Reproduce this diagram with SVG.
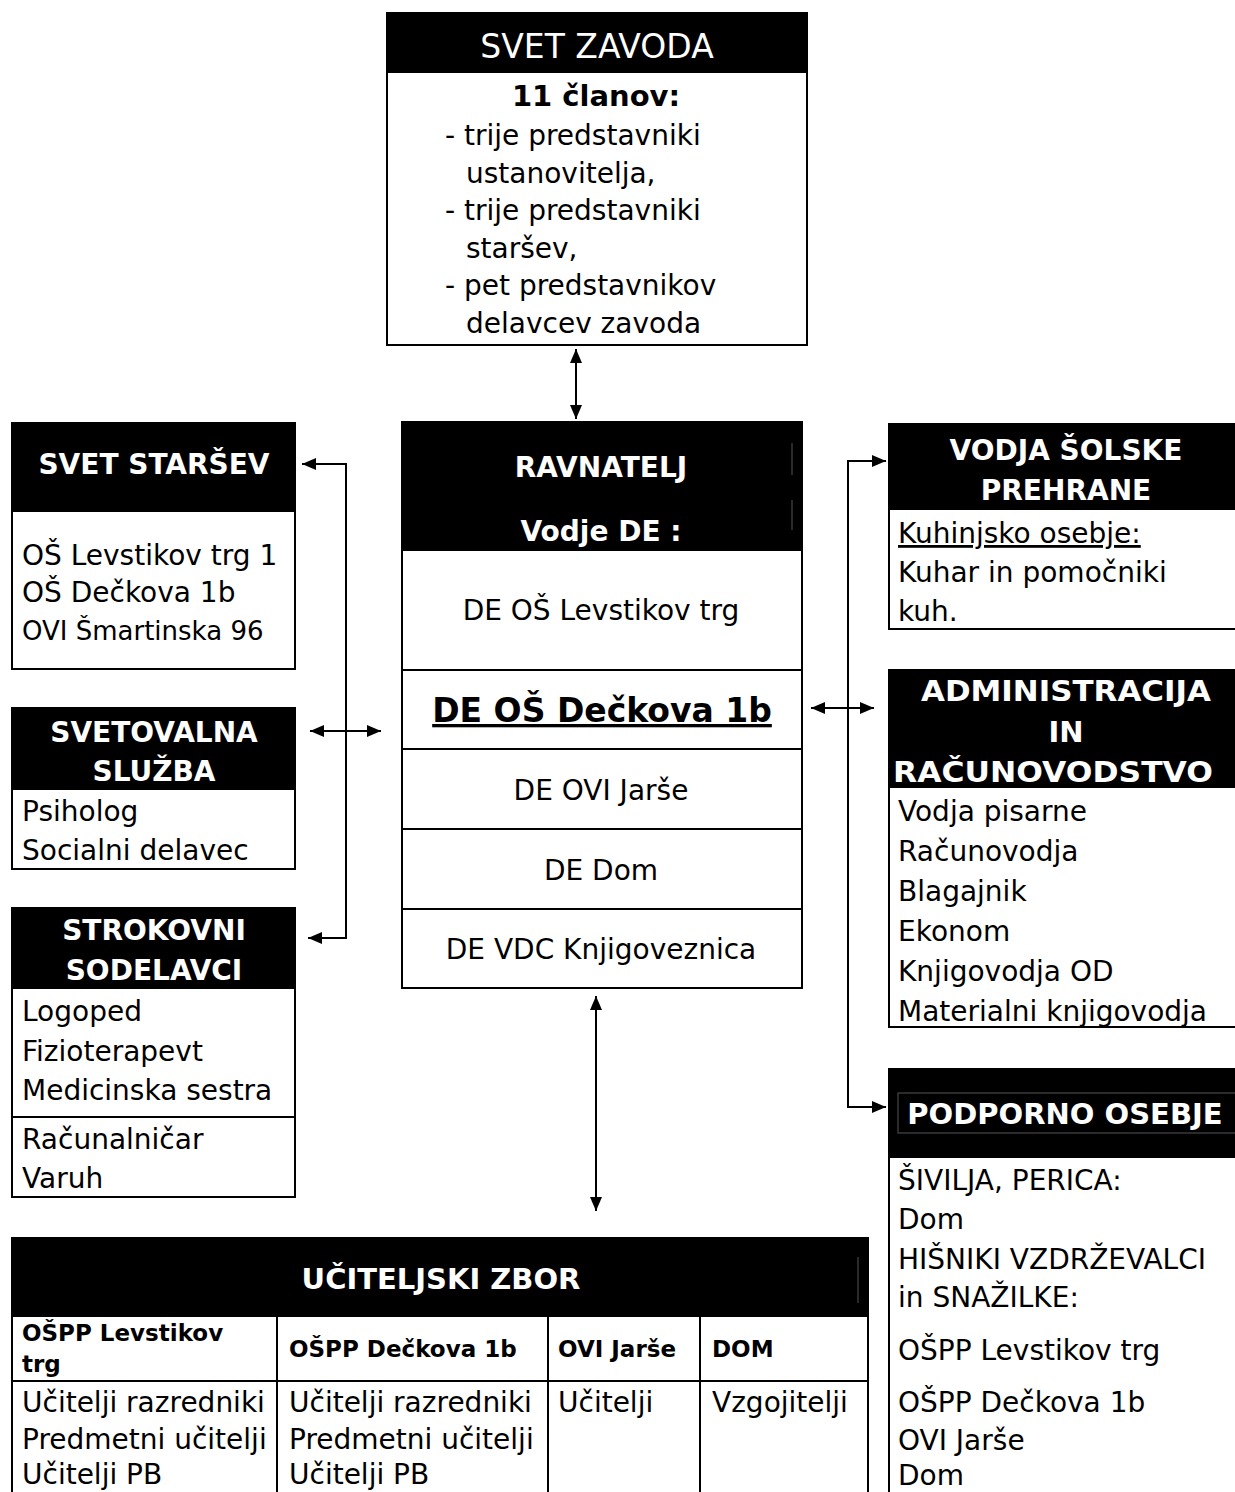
<svg xmlns="http://www.w3.org/2000/svg" width="1235" height="1492" viewBox="0 0 1235 1492">
<style>
text{font-family:"DejaVu Sans",Verdana,sans-serif;font-size:28px;fill:#000}
.w{fill:#fff;font-weight:bold}
.c{text-anchor:middle}
.b{font-weight:bold}
.blk{fill:#000}
.frm{fill:none;stroke:#000;stroke-width:2}
.ln{stroke:#000;stroke-width:2;fill:none}
.gr{stroke:#555;stroke-width:1;fill:none}
.con{stroke:#000;stroke-width:2;fill:none;marker-start:url(#ah);marker-end:url(#ah)}
</style>
<defs>
<marker id="ah" markerUnits="userSpaceOnUse" markerWidth="16" markerHeight="14" refX="14" refY="6" orient="auto-start-reverse">
<path d="M0,0 L14,6 L0,12 z" fill="#000"/>
</marker>
</defs>
<rect width="1235" height="1492" fill="#fff"/>

<g id="svet-zavoda">
<rect class="blk" x="387" y="13" width="420" height="60"/>
<rect class="frm" x="387" y="13" width="420" height="332"/>
<text class="c" x="597" y="58" style="fill:#fff;font-size:33px">SVET ZAVODA</text>
<text class="c b" x="596" y="106" style="font-size:29px">11 članov:</text>
<text x="445" y="145">- trije predstavniki</text>
<text x="466" y="183">ustanovitelja,</text>
<text x="445" y="220">- trije predstavniki</text>
<text x="466" y="258">staršev,</text>
<text x="445" y="295">- pet predstavnikov</text>
<text x="466" y="333">delavcev zavoda</text>
</g>

<g id="ravnatelj">
<rect class="blk" x="402" y="422" width="400" height="129"/>
<rect class="frm" x="402" y="422" width="400" height="566"/>
<line class="gr" x1="792" y1="443" x2="792" y2="475"/>
<line class="gr" x1="792" y1="500" x2="792" y2="530"/>
<text class="c w" x="601" y="477">RAVNATELJ</text>
<text class="c w" x="601" y="541">Vodje DE :</text>
<line class="ln" x1="402" y1="670" x2="802" y2="670"/>
<line class="ln" x1="402" y1="749" x2="802" y2="749"/>
<line class="ln" x1="402" y1="829" x2="802" y2="829"/>
<line class="ln" x1="402" y1="909" x2="802" y2="909"/>
<text class="c" x="601" y="620">DE OŠ Levstikov trg</text>
<text class="c b" x="602" y="722" style="font-size:33px" text-decoration="underline">DE OŠ Dečkova 1b</text>
<text class="c" x="601" y="800">DE OVI Jarše</text>
<text class="c" x="601" y="880">DE Dom</text>
<text class="c" x="601" y="959">DE VDC Knjigoveznica</text>
</g>

<g id="svet-starsev">
<rect class="blk" x="12" y="423" width="283" height="89"/>
<rect class="frm" x="12" y="423" width="283" height="246"/>
<text class="c w" x="154" y="474">SVET STARŠEV</text>
<text x="22" y="565">OŠ Levstikov trg 1</text>
<text x="22" y="602">OŠ Dečkova 1b</text>
<text x="22" y="640" style="font-size:26px">OVI Šmartinska 96</text>
</g>

<g id="svetovalna-sluzba">
<rect class="blk" x="12" y="708" width="283" height="82"/>
<rect class="frm" x="12" y="708" width="283" height="161"/>
<text class="c w" x="154" y="742">SVETOVALNA</text>
<text class="c w" x="154" y="781">SLUŽBA</text>
<text x="22" y="821">Psiholog</text>
<text x="22" y="860">Socialni delavec</text>
</g>

<g id="strokovni-sodelavci">
<rect class="blk" x="12" y="908" width="283" height="81"/>
<rect class="frm" x="12" y="908" width="283" height="289"/>
<text class="c w" x="154" y="940">STROKOVNI</text>
<text class="c w" x="154" y="980">SODELAVCI</text>
<text x="22" y="1021">Logoped</text>
<text x="22" y="1061">Fizioterapevt</text>
<text x="22" y="1100">Medicinska sestra</text>
<line class="ln" x1="12" y1="1117" x2="295" y2="1117"/>
<text x="22" y="1149">Računalničar</text>
<text x="22" y="1188">Varuh</text>
</g>

<g id="vodja-prehrane">
<rect class="blk" x="889" y="423" width="346" height="87"/>
<path class="ln" d="M889,423 V629 H1235"/>
<text class="c w" x="1066" y="460">VODJA ŠOLSKE</text>
<text class="c w" x="1066" y="500">PREHRANE</text>
<text x="898" y="543" text-decoration="underline">Kuhinjsko osebje:</text>
<text x="898" y="582">Kuhar in pomočniki</text>
<text x="898" y="621">kuh.</text>
</g>

<g id="administracija">
<rect class="blk" x="889" y="669" width="346" height="119"/>
<path class="ln" d="M889,669 V1027 H1235"/>
<text class="c w" x="1066" y="701" style="font-size:29px" textLength="290" lengthAdjust="spacingAndGlyphs">ADMINISTRACIJA</text>
<text class="c w" x="1066" y="742" style="font-size:29px">IN</text>
<text class="c w" x="1053" y="782" style="font-size:29px" textLength="320" lengthAdjust="spacingAndGlyphs">RAČUNOVODSTVO</text>
<text x="898" y="821">Vodja pisarne</text>
<text x="898" y="861">Računovodja</text>
<text x="898" y="901">Blagajnik</text>
<text x="898" y="941">Ekonom</text>
<text x="898" y="981">Knjigovodja OD</text>
<text x="898" y="1021">Materialni knjigovodja</text>
</g>

<g id="podporno-osebje">
<rect class="blk" x="889" y="1068" width="346" height="90"/>
<line class="ln" x1="889" y1="1068" x2="889" y2="1492"/>
<rect class="gr" x="898" y="1093" width="340" height="40"/>
<text class="c w" x="1065" y="1124" style="font-size:29px">PODPORNO OSEBJE</text>
<text x="898" y="1190">ŠIVILJA, PERICA:</text>
<text x="898" y="1229">Dom</text>
<text x="898" y="1269">HIŠNIKI VZDRŽEVALCI</text>
<text x="898" y="1307">in SNAŽILKE:</text>
<text x="898" y="1360">OŠPP Levstikov trg</text>
<text x="898" y="1412">OŠPP Dečkova 1b</text>
<text x="898" y="1450">OVI Jarše</text>
<text x="898" y="1485">Dom</text>
</g>

<g id="uciteljski-zbor">
<rect class="blk" x="12" y="1237" width="856" height="80"/>
<line class="gr" x1="858" y1="1257" x2="858" y2="1303"/>
<text class="c w" x="441" y="1289" style="font-size:29px">UČITELJSKI ZBOR</text>
<path class="ln" d="M12,1237 V1492 M868,1237 V1492 M277,1317 V1492 M548,1317 V1492 M700,1317 V1492 M12,1381 H868"/>
<text class="b" x="22" y="1341" style="font-size:23px">OŠPP Levstikov</text>
<text class="b" x="22" y="1372" style="font-size:23px">trg</text>
<text class="b" x="289" y="1357" style="font-size:23px">OŠPP Dečkova 1b</text>
<text class="b" x="558" y="1357" style="font-size:23px">OVI Jarše</text>
<text class="b" x="712" y="1357" style="font-size:23px">DOM</text>
<text x="22" y="1412">Učitelji razredniki</text>
<text x="22" y="1449">Predmetni učitelji</text>
<text x="22" y="1484">Učitelji PB</text>
<text x="289" y="1412">Učitelji razredniki</text>
<text x="289" y="1449">Predmetni učitelji</text>
<text x="289" y="1484">Učitelji PB</text>
<text x="558" y="1412">Učitelji</text>
<text x="712" y="1412">Vzgojitelji</text>
</g>

<g id="connectors">
<line class="con" x1="576" y1="349" x2="576" y2="419"/>
<path class="con" d="M302,464 H346 V938 H308"/>
<line class="con" x1="310" y1="731" x2="381" y2="731"/>
<path class="con" d="M886,461 H848 V1107 H886"/>
<line class="con" x1="811" y1="708" x2="874" y2="708"/>
<line class="con" x1="596" y1="996" x2="596" y2="1211"/>
</g>
</svg>
